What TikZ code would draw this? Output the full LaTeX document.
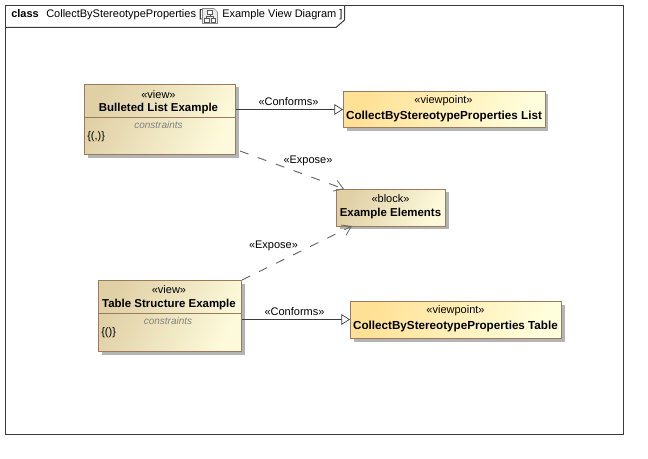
\documentclass[tikz,border=0pt]{standalone}
\usepackage{fontspec}
\setmainfont{Liberation Sans}
\usetikzlibrary{arrows.meta,shadows,positioning}
\definecolor{lineC}{HTML}{3C3C3C}
\definecolor{boxedge}{HTML}{9A7B5C}
\definecolor{shadowC}{HTML}{B4B4B4}
\definecolor{tanA}{HTML}{E0D0A6}
\definecolor{tanB}{HTML}{FDFADB}
\definecolor{yelA}{HTML}{FFE196}
\definecolor{yelB}{HTML}{FFFEDC}
\tikzset{
  x=0.75pt,y=-0.75pt,
  every node/.style={font=\fontsize{8.25pt}{10pt}\selectfont,inner sep=0pt,text=black},
  umlbox/.style={draw=boxedge,line width=0.75pt,rectangle,
    general shadow={fill=shadowC,shadow xshift=2.25pt,shadow yshift=-2.25pt}},
  tanbox/.style={umlbox,left color=tanA,right color=tanB,shading angle=65},
  yelbox/.style={umlbox,left color=yelA,right color=yelB,shading angle=65},
  wh/.style 2 args={minimum width=#1*0.75pt,minimum height=#2*0.75pt},
  stereo/.style={},
  bname/.style={font=\fontsize{8.6pt}{10pt}\selectfont\bfseries},
  bnamew/.style={font=\fontsize{8.75pt}{10pt}\selectfont\bfseries},
  kwd/.style={font=\fontsize{8.25pt}{10pt}\selectfont\bfseries},
  comp/.style={font=\fontsize{7.5pt}{9pt}\selectfont\itshape,text=black!50},
  frameline/.style={draw=lineC,line width=0.75pt},
  conf/.style={draw=lineC,line width=0.75pt,-{Triangle[open,fill=white,length=6.5pt,width=8pt,line width=0.5pt]}},
  expo/.style={draw=black!60,line width=0.7pt,dash pattern=on 6.75pt off 7.5pt,-{Straight Barb[length=6.5pt,width=8.5pt,line width=0.6pt]}},
}
\begin{document}
\begin{tikzpicture}
\useasboundingbox (0,0) rectangle (648,459);
\fill[white] (0,0) rectangle (648,459);
% frame
\draw[frameline] (5.5,5.5) rectangle (623.5,434.5);
\draw[frameline] (5.5,27.5) -- (336,27.5) -- (344.5,20) -- (344.5,5.5);
\node[anchor=base west,kwd] (kw) at (11,18) {class};
\node[anchor=base west] (ttl) at (46,18) {CollectByStereotypeProperties [};
\node[anchor=base west] (ttl2) at (222,18) {Example View Diagram ]};
% icon
\draw[draw=black!45,fill=black!8,line width=0.5pt] (202.5,8.5) -- (214,8.5) -- (217.5,12) -- (217.5,23.5) -- (202.5,23.5) -- cycle;
\draw[draw=black!65,line width=0.45pt,fill=white] (207.5,10.5) rectangle (212.5,14.5);
\draw[draw=black!65,line width=0.45pt,fill=white] (204.5,18) rectangle (209,22);
\draw[draw=black!65,line width=0.45pt,fill=white] (211,18) rectangle (215.5,22);
\draw[draw=black!65,line width=0.45pt] (210,14.5) -- (210,16.5) (206.7,18) -- (206.7,16.5) -- (213.2,16.5) -- (213.2,18);
% boxes
\node[tanbox,wh={151}{70.5}] (bul) at (160,119.75) {};
\draw[draw=boxedge,line width=0.75pt] (bul.west |- 0,117.5) -- (bul.east |- 0,117.5);
\node[stereo] (bulS) at (158.5,94.5) {«view»};
\node[bname] (bulN) at (158.5,109) {Bulleted List Example};
\node[comp] (bulC) at (158.5,125) {constraints};
\node[anchor=west] (bulT) at (87,137) {\{(,)\}};

\node[tanbox,wh={143}{71}] (tab) at (170,316) {};
\draw[draw=boxedge,line width=0.75pt] (tab.west |- 0,313.5) -- (tab.east |- 0,313.5);
\node[stereo] (tabS) at (169,290) {«view»};
\node[bname] (tabN) at (169,305) {Table Structure Example};
\node[comp] (tabC) at (168,321) {constraints};
\node[anchor=west] (tabT) at (101,332.5) {\{()\}};

\node[yelbox,wh={201.5}{36.5}] (vp1) at (444.25,109.75) {};
\node[stereo] (vp1S) at (443.5,101) {«viewpoint»};
\node[bnamew] (vp1N) at (444,116) {CollectByStereotypeProperties List};

\node[yelbox,wh={211}{37}] (vp2) at (456,320) {};
\node[stereo] (vp2S) at (455.5,311) {«viewpoint»};
\node[bnamew] (vp2N) at (455.5,326) {CollectByStereotypeProperties Table};

\node[tanbox,wh={109}{37}] (blk) at (391,208) {};
\node[stereo] (blkS) at (390.5,199) {«block»};
\node[bname] (blkN) at (390.5,214) {Example Elements};
% connectors
\draw[conf] (bul.east |- 0,109.5) -- (vp1.west |- 0,109.5);
\node (c1) at (288.5,101.5) {«Conforms»};
\draw[conf] (tab.east |- 0,319.5) -- (vp2.west |- 0,319.5);
\node (c2) at (294.5,311.5) {«Conforms»};
\coordinate (e1s) at (240,151);
\coordinate (e1t) at (344,189);
\coordinate (e2s) at (242,280);
\coordinate (e2t) at (352,226);
\draw[expo] (e1s) -- (e1t);
\draw[expo] (e2s) -- (e2t);
\node (x1) at (308,161) {«Expose»};
\node (x2) at (273.5,246) {«Expose»};
\end{tikzpicture}
\end{document}
